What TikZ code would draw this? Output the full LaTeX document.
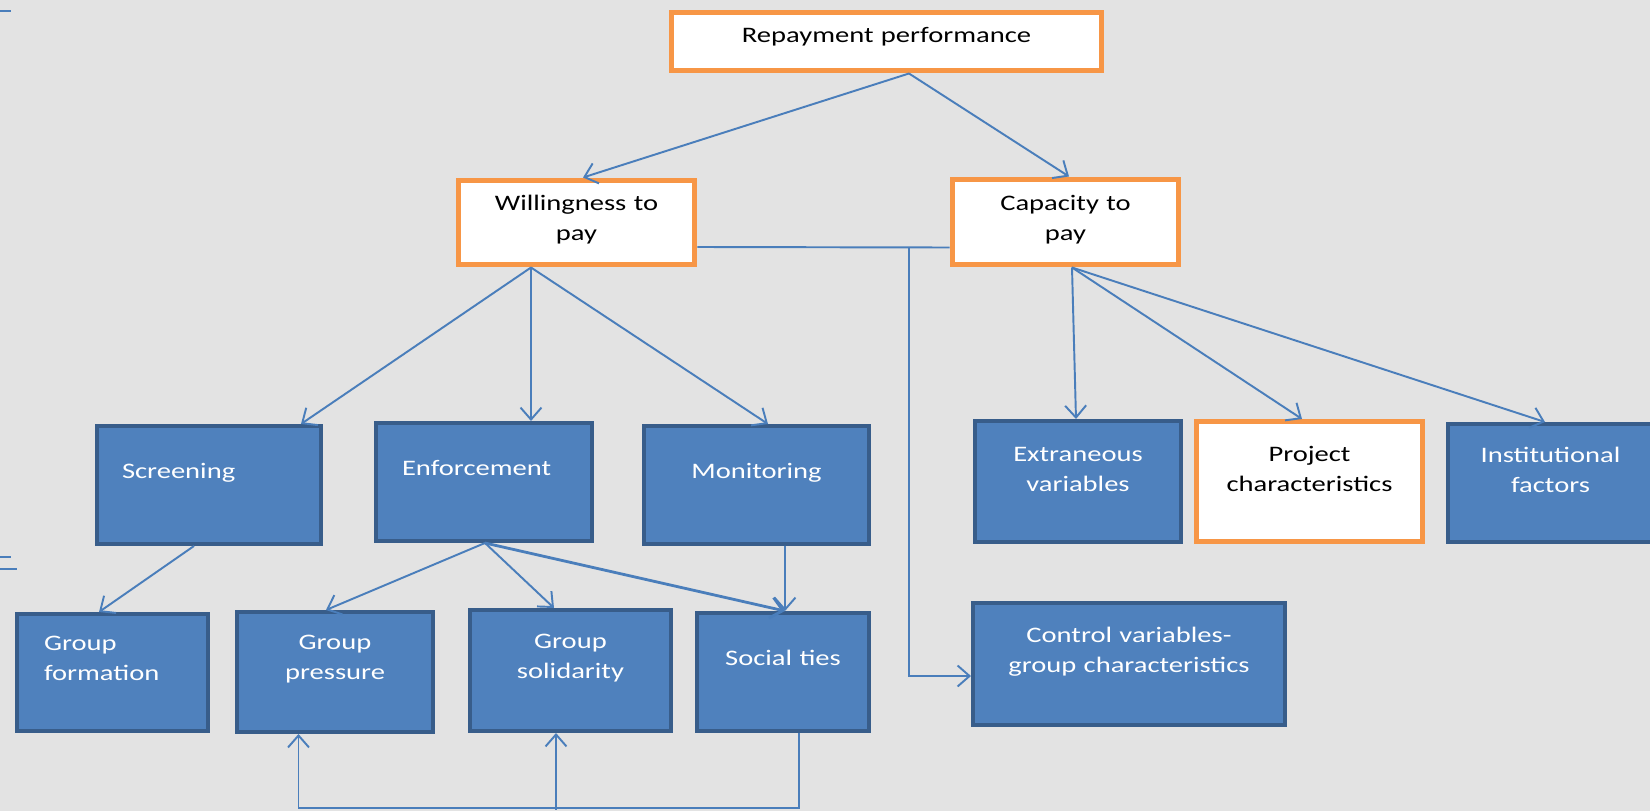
\documentclass[tikz,border=0pt]{standalone}
\usepackage{fontspec}
\setmainfont{Carlito}[FakeStretch=1.29]
\usetikzlibrary{arrows.meta,calc}

\definecolor{bgpaper}{HTML}{E3E3E3}
\definecolor{bluefill}{HTML}{4F81BD}
\definecolor{blueline}{HTML}{385D8A}
\definecolor{orangeline}{HTML}{F79646}
\definecolor{linkblue}{HTML}{4A7EBB}

\begin{document}
\begin{tikzpicture}[
  x=0.02cm, y=-0.02cm,
  every node/.style={font=\fontsize{12.6}{17.6}\selectfont},
  factor/.style={rectangle, draw=orangeline, line width=0.1cm, fill=white,
                 text=black, align=center, inner sep=0pt},
  driver/.style={rectangle, draw=blueline, line width=0.08cm, fill=bluefill,
                 text=white, align=center, inner sep=0pt},
  leftdriver/.style={driver, align=left, inner xsep=0.52cm},
  link/.style={-{Straight Barb[length=0.24cm,width=0.42cm]}, draw=linkblue, line width=1.1pt},
  plainlink/.style={draw=linkblue, line width=1.1pt}
]
\useasboundingbox (0,0) rectangle (1650,811);
\clip (0,0) rectangle (1650,811);
\fill[bgpaper] (0,0) rectangle (1650,811);

% small marks on the left edge
\draw[plainlink] (0,11) -- (11,11);
\draw[plainlink] (0,557) -- (11,557);
\draw[plainlink] (0,569) -- (17,569);

% ====== top levels ======
\node[factor, text width=8.62cm, text height=0.62cm, text depth=0.56cm] (repay) at (886.5,41.5) {Repayment performance};
\node[factor, text width=4.74cm, text height=0.60cm, text depth=1.10cm] (willing) at (576.5,222.5) {Willingness to\\pay};
\node[factor, text width=4.54cm, text height=0.62cm, text depth=1.10cm] (capacity) at (1065.5,222) {Capacity to\\pay};

% ====== willingness side ======
\node[leftdriver, inner xsep=0.50cm, text width=3.48cm, text height=1.04cm, text depth=1.32cm] (screening) at (209,485) {Screening};
\node[leftdriver, text width=3.28cm, text height=1.04cm, text depth=1.32cm] (enforce) at (484,482) {Enforcement};
\node[driver, text width=4.50cm, text height=1.04cm, text depth=1.32cm] (monitor) at (756.5,485) {Monitoring};

\node[leftdriver, inner xsep=0.54cm, text width=2.74cm, text height=0.72cm, text depth=1.62cm] (formation) at (112.5,672.5) {Group\\formation};
\node[driver, text width=3.92cm, text height=0.74cm, text depth=1.66cm] (pressure) at (335,672) {Group\\pressure};
\node[driver, text width=4.02cm, text height=0.76cm, text depth=1.66cm] (solidarity) at (570.5,670.5) {Group\\solidarity};
\node[driver, text width=3.44cm, text height=1.04cm, text depth=1.32cm] (ties) at (783,672) {Social ties};

% ====== capacity side ======
\node[driver, text width=4.12cm, text height=0.80cm, text depth=1.62cm] (extra) at (1078,481.5) {Extraneous\\variables};
\node[factor, text width=4.52cm, text height=0.79cm, text depth=1.61cm] (project) at (1309.5,481.5) {Project\\characteristics};
\node[driver, text width=4.10cm, text height=0.76cm, text depth=1.60cm] (institut) at (1550.5,483) {Institutional\\factors};
\node[driver, text width=6.24cm, text height=0.78cm, text depth=1.66cm] (control) at (1129,664) {Control variables-\\group characteristics};

% ====== connectors ======
\coordinate (rapex) at ($(repay.south)+(22.5,0)$);
\coordinate (wapex) at ($(willing.south)+(-45.5,0)$);
\coordinate (capex) at ($(capacity.south)+(6.5,0)$);
\coordinate (eapex) at ($(enforce.south)+(1,0)$);

\draw[link] (rapex) -- ($(willing.north)+(6.5,0)$);
\draw[link] (rapex) -- ($(capacity.north)+(3.5,0)$);

\draw[plainlink] ($(willing.east)+(0,24.5)$) -- ($(capacity.west)+(0,25.5)$);
\draw[link] (rapex |- 0,248) |- ($(control.west)+(0,12)$);

\draw[link] (wapex) -- ($(screening.north)+(92,0)$);
\draw[link] (wapex) -- ($(enforce.north)+(47,0)$);
\draw[link] (wapex) -- ($(monitor.north)+(11.5,0)$);

\draw[link] (capex) -- ($(extra.north)+(-2,0)$);
\draw[link] (capex) -- ($(project.north)+(-7.5,0)$);
\draw[link] (capex) -- ($(institut.north)+(-5.5,0)$);

\draw[link] ($(screening.south)+(-15,0)$) -- ($(formation.north)+(-13.5,0)$);
\draw[link] (eapex) -- ($(pressure.north)+(-9,0)$);
\draw[link] (eapex) -- ($(solidarity.north)+(-16.5,0)$);
\draw[link, line width=1.6pt] (eapex) -- ($(ties.north)+(2,0)$);
\draw[link] ($(monitor.south)+(28.5,0)$) -- ($(ties.north)+(2,0)$);

\draw[link] ($(ties.south)+(16,0)$) -- ++(0,75) -| ($(pressure.south)+(-36.5,0)$);
\draw[link] ($(solidarity.south)+(-14.5,77)$) -- ($(solidarity.south)+(-14.5,0)$);

\end{tikzpicture}
\end{document}
